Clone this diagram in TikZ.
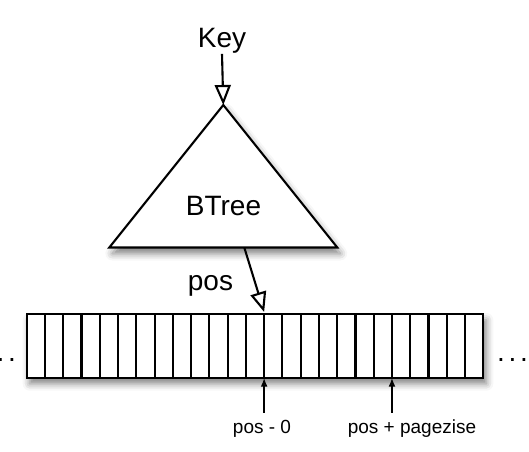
\documentclass[tikz,border=0pt]{standalone}
\usepackage{fontspec}
\setmainfont{Liberation Sans}
\usepackage{tikz}
\usetikzlibrary{positioning}
\usetikzlibrary{arrows.meta}
\usetikzlibrary{shadows.blur}

\newcommand{\rowdots}{.\kern3.7pt.\kern3.7pt.}

\begin{document}
\begin{tikzpicture}[x=1pt, y=-1pt, line width=2.1pt,
  big/.style={font=\fontsize{28}{30}\selectfont, inner sep=0pt},
  small/.style={font=\fontsize{19}{21}\selectfont, inner sep=0pt},
  hollow/.style={-{Triangle[open, length=20pt, width=16pt]}},
  pointer/.style={-{Latex[length=9pt, width=7pt]}, line width=1.8pt},
  soft shadow/.style={blur shadow={shadow xshift=3pt, shadow yshift=-6pt, shadow blur radius=7pt, shadow opacity=50}}]
\useasboundingbox (0,0) rectangle (529,451);

% the tree
\coordinate (apex) at (223.3,105);
\coordinate (baseL) at (109.3,247.5);
\coordinate (baseR) at (337.3,247.5);
\draw [soft shadow, fill=white] (apex) -- (baseR) -- (baseL) -- cycle;
\node (btree) [big, anchor=base] at (223.5,215) {BTree};

\node (key) [big, anchor=base] at (222,47) {Key};
\draw [hollow] (key.south) -- (apex);

% the pages
\node (pages) [draw, fill=white, soft shadow, outer sep=0pt, inner sep=0pt, minimum width=456.6pt, minimum height=63.7pt] at (255,345.85) {};
\foreach \i in {1,...,24}
  \draw ([xshift=\i*18.264pt]pages.north west) -- ([xshift=\i*18.264pt]pages.south west);

\node (leftdots) [big, anchor=base east] at (17,361) {\rowdots};
\node (rightdots) [big, anchor=base west] at (496,361) {\rowdots};

\coordinate (posout) at (244.3,247.5);
\coordinate (posin) at ([xshift=13*18.264pt]pages.north west);
\node (poslbl) [big, anchor=base] at (210.5,290) {pos};
\draw [hollow] (posout) -- ([yshift=2pt]posin);

\coordinate (zero) at ([xshift=13*18.264pt]pages.south west);
\coordinate (page) at ([xshift=20*18.264pt]pages.south west);
\draw [pointer] ([yshift=-35pt]zero) -- (zero);
\draw [pointer] ([yshift=-35pt]page) -- (page);
\node (zerolbl) [small, anchor=base] at (262,433) {pos - 0};
\node (pagelbl) [small, anchor=base] at (412,433) {pos + pagezise};

\end{tikzpicture}
\end{document}
